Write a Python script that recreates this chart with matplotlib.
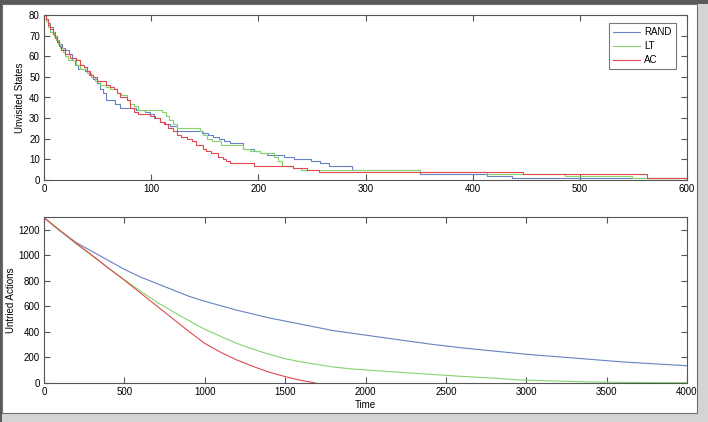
import matplotlib
matplotlib.use('Agg')
import matplotlib.pyplot as plt
from matplotlib.patches import Rectangle

plt.rcParams['font.family'] = ['Liberation Sans', 'DejaVu Sans']

# top panel: unvisited states (step series, change times / values)
rand_t = [0, 2, 4, 6, 8, 10, 12, 14, 17, 20, 23, 26, 29, 32, 38, 42, 46, 49, 52, 55, 58, 66, 71, 86, 94, 99,
          103, 108, 113, 118, 124, 147, 153, 158, 163, 168, 174, 186, 196, 202, 208, 224, 233, 249, 258, 266,
          287, 351, 413, 437, 600]
rand_v = [80, 78, 76, 74, 72, 70, 68, 66, 64, 63, 61, 58, 56, 54, 53, 51, 49, 47, 44, 42, 39, 37, 35, 34, 33, 32,
          30, 28, 27, 26, 24, 23, 22, 21, 20, 19, 18, 15, 14, 13, 12, 11, 10, 9, 8, 7,
          5, 3, 2, 1, 1]

lt_t = [0, 2, 4, 6, 9, 11, 13, 15, 18, 20, 22, 30, 34, 40, 44, 48, 52, 58, 62, 68, 72, 77, 80, 84, 88, 110,
        114, 117, 120, 124, 146, 148, 152, 157, 165, 186, 192, 202, 215, 218, 222, 232, 240, 351, 413, 486,
        549, 600]
lt_v = [80, 77, 74, 72, 70, 68, 66, 64, 62, 60, 58, 56, 54, 52, 50, 48, 46, 45, 44, 42, 41, 39, 37, 36, 34, 33,
        31, 29, 27, 25, 24, 22, 20, 19, 17, 15, 14, 13, 11, 9, 7, 6, 5, 4, 3, 2,
        1, 1]

ac_t = [0, 2, 4, 6, 8, 10, 12, 14, 16, 20, 24, 30, 34, 37, 40, 43, 46, 49, 58, 62, 65, 68, 71, 77, 80, 84,
        88, 99, 104, 108, 112, 116, 120, 124, 128, 133, 138, 142, 148, 151, 156, 162, 167, 170, 174, 196,
        232, 245, 257, 447, 563, 600]
ac_v = [80, 78, 75, 73, 71, 69, 67, 65, 63, 61, 59, 58, 56, 55, 53, 51, 50, 48, 46, 45, 44, 42, 40, 39, 35, 33,
        32, 31, 30, 28, 27, 25, 24, 22, 21, 20, 19, 17, 15, 14, 13, 11, 10, 9, 8, 7,
        6, 5, 4, 3, 1, 1]

# bottom panel: untried actions
rand_bt = [0, 100, 200, 300, 400, 500, 600, 700, 800, 900, 1000, 1200, 1400, 1600, 1800, 2000, 2200, 2400,
           2600, 2800, 3000, 3200, 3400, 3600, 3800, 4000]
rand_bv = [1295, 1190, 1100, 1030, 960, 890, 830, 780, 730, 680, 640, 570, 510, 460, 410, 375, 340, 305,
           275, 250, 225, 205, 185, 165, 150, 135]

lt_bt = [0, 100, 200, 300, 400, 500, 600, 700, 800, 900, 1000, 1100, 1200, 1300, 1400, 1500, 1600, 1700,
         1800, 1900, 2000, 2200, 2400, 2600, 2800, 2900, 3000, 3200, 3400, 3600, 3800, 4000]
lt_bv = [1295, 1190, 1090, 995, 900, 810, 720, 635, 560, 490, 420, 365, 310, 265, 225, 190, 165, 145,
         125, 112, 102, 85, 68, 52, 38, 28, 22, 15, 8, 5, 3, 2]

ac_bt = [0, 100, 200, 300, 400, 500, 600, 700, 800, 900, 1000, 1100, 1200, 1300, 1400, 1500, 1600, 1690]
ac_bv = [1295, 1195, 1095, 1000, 900, 805, 705, 605, 505, 405, 310, 240, 180, 130, 85, 50, 20, 0]

c_rand = '#6682c4'
c_lt = '#84d46e'
c_ac = '#e04a4f'

fig = plt.figure(figsize=(7.08, 4.22), dpi=100)
fig.patch.set_facecolor('#d4d4d4')
# frame around the chart
fig.patches.append(Rectangle((0, 1 - 4 / 422), 1, 4 / 422, transform=fig.transFigure,
                             facecolor='#5a5a5a', edgecolor='none', zorder=-3))
fig.patches.append(Rectangle((0, 0), 2 / 708, 1, transform=fig.transFigure,
                             facecolor='#5a5a5a', edgecolor='none', zorder=-3))
fig.patches.append(Rectangle((2 / 708, 9 / 422), 695 / 708, 409 / 422, transform=fig.transFigure,
                             facecolor='white', edgecolor='#707070', linewidth=0.8, zorder=-2))

ax1 = fig.add_axes([44 / 708, (422 - 180) / 422, 643 / 708, 165 / 422])
ax2 = fig.add_axes([44 / 708, (422 - 383) / 422, 643 / 708, 166 / 422])

ax1.plot(rand_t, rand_v, color=c_rand, lw=0.8, drawstyle='steps-post', label='RAND')
ax1.plot(lt_t, lt_v, color=c_lt, lw=0.8, drawstyle='steps-post', label='LT')
ax1.plot(ac_t, ac_v, color=c_ac, lw=0.8, drawstyle='steps-post', label='AC')
ax1.set_xlim(0, 600)
ax1.set_ylim(0, 80)
ax1.set_xticks(range(0, 601, 100))
ax1.set_yticks(range(0, 81, 10))
ax1.set_ylabel('Unvisited States', fontsize=7, labelpad=3)
leg = ax1.legend(loc='upper right', fontsize=7, frameon=True, fancybox=False, borderpad=0.45,
                 handlelength=2.8, handletextpad=0.4, labelspacing=0.4, borderaxespad=0,
                 bbox_to_anchor=(0.983, 0.952))
leg.get_frame().set_edgecolor('#555555')
leg.get_frame().set_linewidth(0.8)

ax2.plot(rand_bt, rand_bv, color=c_rand, lw=0.8)
ax2.plot(lt_bt, lt_bv, color=c_lt, lw=0.8)
ax2.plot(ac_bt, ac_bv, color=c_ac, lw=0.8)
ax2.set_xlim(0, 4000)
ax2.set_ylim(0, 1300)
ax2.set_xticks(range(0, 4001, 500))
ax2.set_yticks(range(0, 1201, 200))
ax2.set_ylabel('Untried Actions', fontsize=7, labelpad=2)
ax2.set_xlabel('Time', fontsize=7, labelpad=2)

for ax in (ax1, ax2):
    ax.tick_params(direction='in', length=4, width=0.8, color='#555555', labelsize=7,
                   top=True, right=True, pad=3)
    for s in ax.spines.values():
        s.set_color('#555555')
        s.set_linewidth(0.8)

fig.savefig('out.png', dpi=100, facecolor=fig.get_facecolor())
